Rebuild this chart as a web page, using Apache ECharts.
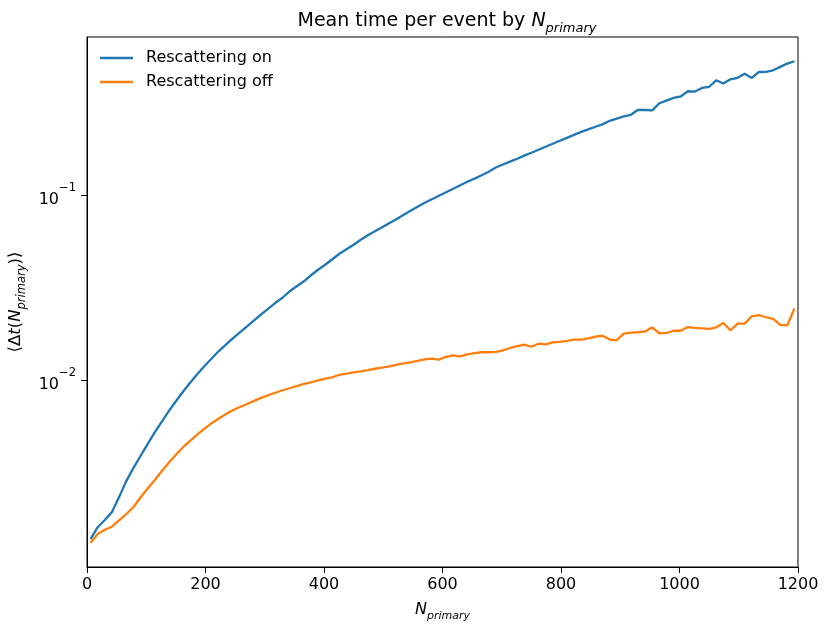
<!DOCTYPE html>
<html>
<head>
<meta charset="utf-8">
<script src="https://cdn.jsdelivr.net/npm/echarts@6/dist/echarts.min.js"></script>
<style>
html,body{margin:0;padding:0;background:#fff;}
#chart{width:830px;height:631px;}
</style>
</head>
<body>
<div id="chart"></div>
<script>
// N_primary bin centres
var nPrimary = [6,18,30,42,54,66,78,90,102,114,126,138,150,162,174,186,198,210,222,234,
  246,258,270,282,294,306,318,330,342,354,366,378,390,402,414,426,438,450,462,474,
  486,498,510,522,534,546,558,570,582,594,606,618,630,642,654,666,678,690,702,714,
  726,738,750,762,774,786,798,810,822,834,846,858,870,882,894,906,918,930,942,954,
  966,978,990,1002,1014,1026,1038,1050,1062,1074,1086,1098,1110,1122,1134,1146,1158,1170,1182,1194];

var rescatterOn = [0.00138,0.00160,0.00175,0.00193,0.00232,0.00283,0.00333,0.00387,0.00449,0.00519,
  0.00594,0.00678,0.00767,0.00863,0.00966,0.01073,0.01186,0.01302,0.01429,0.01549,
  0.0168,0.01811,0.01951,0.02102,0.02265,0.02432,0.02614,0.02782,0.03017,0.0321,
  0.03416,0.03681,0.03942,0.04195,0.04493,0.04811,0.05088,0.0538,0.05726,0.06056,
  0.06365,0.06689,0.07031,0.07389,0.07796,0.08214,0.08634,0.09074,0.0948,0.0990,
  0.1034,0.1080,0.1128,0.1179,0.1226,0.1278,0.1335,0.1407,0.1462,0.1514,
  0.1571,0.1631,0.1691,0.1755,0.1822,0.1892,0.1963,0.2035,0.2113,0.2193,
  0.2265,0.2337,0.2408,0.2518,0.2588,0.2663,0.2713,0.2887,0.2880,0.2869,
  0.3131,0.3238,0.3349,0.3407,0.3636,0.3623,0.3788,0.3846,0.4169,0.4002,
  0.4221,0.4300,0.4520,0.4290,0.4623,0.4630,0.4722,0.4926,0.5133,0.5282];

var rescatterOff = [0.00132,0.00147,0.00155,0.00161,0.00174,0.00188,0.00205,0.00231,0.00258,0.00287,
  0.00321,0.00357,0.00394,0.00433,0.00469,0.00506,0.00545,0.00583,0.00617,0.00653,
  0.00686,0.00714,0.00742,0.00771,0.00800,0.00827,0.00853,0.00880,0.00902,0.00927,
  0.00953,0.00972,0.00996,0.01018,0.01034,0.01067,0.01083,0.0110,0.01114,0.01131,
  0.0115,0.01167,0.01183,0.01208,0.01231,0.01246,0.0127,0.01294,0.01305,0.01289,
  0.01335,0.0136,0.01343,0.01377,0.01398,0.01412,0.01412,0.01417,0.01447,0.01489,
  0.01525,0.01554,0.01512,0.01571,0.01556,0.01597,0.01605,0.01629,0.01654,0.01654,
  0.0168,0.01717,0.01734,0.01655,0.01639,0.01782,0.01804,0.01811,0.01829,0.01927,
  0.01788,0.01795,0.01845,0.01845,0.01932,0.01915,0.01903,0.01891,0.01927,0.02032,
  0.01856,0.02017,0.02017,0.0221,0.02243,0.02183,0.02137,0.01983,0.01976,0.02432];

var xTicks = [0,200,400,600,800,1000,1200];
var yTicks = [0.01,0.1];
var seriesNames = ['Rescattering on','Rescattering off'];

function pairs(xs, ys){ return xs.map(function(x,i){ return [x, ys[i]]; }); }

var FONT = 'DejaVu Sans';
var chart = echarts.init(document.getElementById('chart'), null, {renderer:'canvas'});
var option = {
  backgroundColor:'#ffffff',
  animation:false,
  textStyle:{fontFamily:FONT, color:'#000'},
  title:{
    text:'Mean time per event by {i|N}{sub|primary}',
    left:442, top:2.5, textAlign:'center',
    textStyle:{fontFamily:FONT, fontSize:19, fontWeight:'normal', color:'#000', lineHeight:28,
      rich:{
        i:{fontFamily:FONT, fontSize:19, fontStyle:'italic', color:'#000', lineHeight:28, verticalAlign:'middle'},
        sub:{fontFamily:FONT, fontSize:13, fontStyle:'italic', color:'#000', lineHeight:28, verticalAlign:'bottom'}
      }}
  },
  legend:{
    orient:'vertical', left:95, top:45, itemWidth:33, itemHeight:2.5, itemGap:8,
    icon:'rect',
    data:seriesNames,
    textStyle:{fontFamily:FONT, fontSize:16, lineHeight:16, color:'#000', padding:[0,0,0,8]}
  },
  grid:{left:87, right:32, top:37, bottom:64, show:true, borderColor:'#000', borderWidth:1,
    containLabel:false, outerBoundsMode:'none'},
  xAxis:{
    type:'value', min:0, max:1200, interval:200,
    name:'{i|N}{sub|primary}', nameLocation:'middle', nameGap:25,
    nameTextStyle:{fontFamily:FONT, fontSize:16, color:'#000', lineHeight:24,
      rich:{
        i:{fontFamily:FONT, fontSize:16, fontStyle:'italic', color:'#000', lineHeight:24, verticalAlign:'middle'},
        sub:{fontFamily:FONT, fontSize:11, fontStyle:'italic', color:'#000', lineHeight:24, verticalAlign:'bottom'}
      }},
    axisLine:{show:true, onZero:false, lineStyle:{color:'#000', width:1}},
    axisTick:{show:true, inside:false, length:6, lineStyle:{color:'#000', width:1}},
    axisLabel:{show:true, margin:10, fontFamily:FONT, fontSize:16, color:'#000',
      customValues: xTicks, formatter:function(v){ return String(v); }},
    splitLine:{show:false}
  },
  yAxis:{
    type:'log', logBase:10, min:0.000975, max:0.7145,
    name:'{n|⟨Δ}{i|t}{n|(}{i|N}{sub|primary}{n|)⟩}', nameLocation:'middle', nameGap:55,
    nameTextStyle:{fontFamily:FONT, fontSize:16.5, color:'#000', lineHeight:24,
      rich:{
        n:{fontFamily:FONT, fontSize:16.5, color:'#000', lineHeight:24, verticalAlign:'middle'},
        i:{fontFamily:FONT, fontSize:16.5, fontStyle:'italic', color:'#000', lineHeight:24, verticalAlign:'middle'},
        sub:{fontFamily:FONT, fontSize:11.5, fontStyle:'italic', color:'#000', lineHeight:24, verticalAlign:'bottom'}
      }},
    axisLine:{show:true, lineStyle:{color:'#000', width:1}},
    axisTick:{show:true, inside:false, length:6, lineStyle:{color:'#000', width:1}, customValues: yTicks},
    axisLabel:{show:true, margin:11, customValues: yTicks,
      formatter:function(v){
        var e = Math.round(Math.log10(v));
        return '{b|10}{s|−' + Math.abs(e) + '}';
      },
      rich:{
        b:{fontFamily:FONT, fontSize:16, color:'#000', lineHeight:26, verticalAlign:'bottom'},
        s:{fontFamily:FONT, fontSize:11.5, color:'#000', lineHeight:13, verticalAlign:'top'}
      }},
    splitLine:{show:false},
    minorTick:{show:false}
  },
  series:[
    {name:seriesNames[0], type:'line', data:pairs(nPrimary, rescatterOn), showSymbol:false, symbol:'none',
      lineStyle:{color:'#1f77b4', width:2.3}, itemStyle:{color:'#1f77b4'}, clip:true},
    {name:seriesNames[1], type:'line', data:pairs(nPrimary, rescatterOff), showSymbol:false, symbol:'none',
      lineStyle:{color:'#ff7f0e', width:2.3}, itemStyle:{color:'#ff7f0e'}, clip:true}
  ]
};
chart.setOption(option);
</script>
</body>
</html>
